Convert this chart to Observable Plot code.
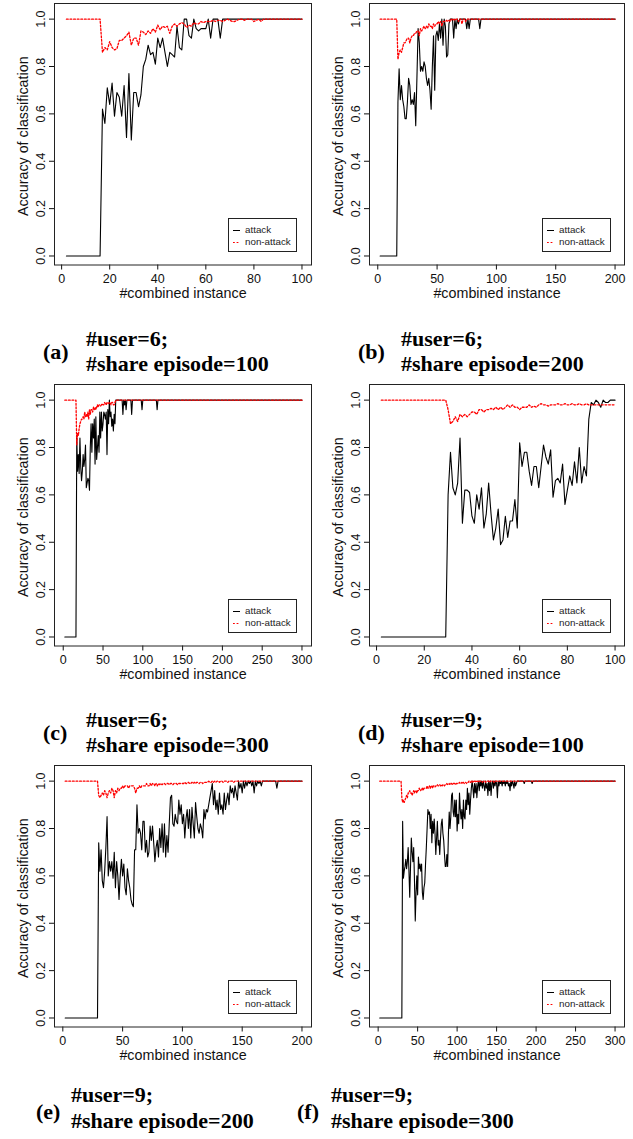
<!DOCTYPE html>
<html>
<head>
<meta charset="utf-8">
<script src="https://cdn.jsdelivr.net/npm/d3@7"></script>
<script src="https://cdn.jsdelivr.net/npm/@observablehq/plot@0.6"></script>
<style>
  html, body { margin: 0; padding: 0; background: #fff; }
  body { width: 633px; height: 1139px; position: relative; overflow: hidden; }
  .panel { position: absolute; width: 316px; height: 300px; }
  .panel > svg { position: absolute; left: 0; top: 0; }
  .legend { position: absolute; left: 228px; top: 218px; width: 69px; height: 34px; box-sizing: border-box;
            border: 1px solid #222; background: #fff; font-family: "Liberation Sans", Arial, sans-serif;
            font-size: 9.8px; color: #222; }
  .legend .row { position: absolute; left: 0; width: 67px; height: 12px; line-height: 12px; }
  .legend .sw { position: absolute; left: 4px; top: 5px; width: 7px; height: 3px; overflow: visible; }
  .legend .lb { position: absolute; left: 16px; top: 0; white-space: nowrap; }
  #captions { position: absolute; left: 0; top: 0; }
</style>
</head>
<body>
<script>
// ---------------- labels & ticks ----------------
const xTicks100 = [0, 20, 40, 60, 80, 100];
const xTicks200 = [0, 50, 100, 150, 200];
const xTicks300 = [0, 50, 100, 150, 200, 250, 300];
const yTicks = [0, 0.2, 0.4, 0.6, 0.8, 1.0];
const seriesNames = ["attack", "non-attack"];
const xTitle = "#combined instance";
const yTitle = "Accuracy of classification";
const panelLetters = ["(a)", "(b)", "(c)", "(d)", "(e)", "(f)"];
const userLabels = ["#user=6;", "#user=6;", "#user=6;", "#user=9;", "#user=9;", "#user=9;"];
const episodeLabels = ["#share episode=100", "#share episode=200", "#share episode=300",
                       "#share episode=100", "#share episode=200", "#share episode=300"];
const lastInstance = [100, 200, 300, 100, 200, 300];
const firstInstance = 2;
const attackBefore = 0;      // attack accuracy before the first changing instance
const nonAttackBefore = 1;   // non-attack accuracy before the first changing instance
const settledValue = 1;      // value after the last listed instance

// ---------------- (a) #user=6; #share episode=100 ----------------
const aAttackStart = 17;
const aAttack = [0.62,0.56,0.71,0.64,0.73,0.59,0.69,0.67,0.59,0.72,
                 0.50,0.77,0.49,0.69,0.69,0.63,0.68,0.80,0.83,0.89,
                 0.85,0.86,0.81,0.92,0.88,0.92,0.86,0.80,0.86,0.85,
                 0.84,0.97,0.88,0.87,1,1,0.93,0.92,1,0.96,
                 0.95,0.96,0.96,0.96,1,0.92,1,1,1,0.92];
const aNonStart = 17;
const aNon = [0.86,0.88,0.87,0.905,0.88,0.87,0.875,0.91,0.91,0.92,
              0.93,0.945,0.89,0.92,0.92,0.89,0.95,0.945,0.935,0.95,
              0.94,0.96,0.945,0.975,0.955,0.97,0.965,0.97,0.94,0.97,
              0.98,0.97,0.98,0.985,0.98,0.965,0.975,0.97,0.985,0.98,
              0.98,0.99,0.985,0.99,0.99,0.99,0.995,0.99,0.995,0.995,
              0.99,0.995,1,0.995,0.99,0.99,0.995,1,1,0.995,
              1,1,1,0.99,0.995,1,0.99];

// ---------------- (b) #user=6; #share episode=200 ----------------
const bAttackStart = 17;
const bAttack = [0.65,0.79,0.66,0.72,0.66,0.63,0.58,0.58,0.65,0.75,
                 0.72,0.64,0.66,0.64,0.69,0.55,0.75,0.96,0.90,0.78,
                 0.80,0.78,0.82,0.80,0.75,0.72,0.75,0.70,0.62,0.80,
                 0.93,0.70,0.93,0.95,0.91,0.98,0.92,1,0.89,1,
                 0.97,0.84,0.85,0.98,1,1,1,0.92,1,0.96,
                 1,0.98,1,1,1,1,1,1,0.96,1,
                 0.96,1,1,1,1,1,1,1,1,0.96,1];
const bNonStart = 17;
const bNon = [0.83,0.86,0.87,0.86,0.88,0.90,0.90,0.91,0.92,0.92,
              0.90,0.92,0.93,0.93,0.94,0.94,0.95,0.95,0.93,0.96,
              0.95,0.96,0.97,0.96,0.97,0.96,0.98,0.97,0.97,0.96,
              0.98,0.97,0.98,0.98,0.99,0.98,0.99,0.97,0.99,0.99,
              0.99,0.995,0.99,0.995,0.99,1,0.995,1,0.995,1,
              1,0.99,1,1,0.98,1,1,0.99,1];

// ---------------- (c) #user=6; #share episode=300 ----------------
const cAttackStart = 17;
const cAttack = [0.85,0.70,0.77,0.69,0.84,0.72,0.66,0.70,0.77,0.72,
                 0.75,0.81,0.63,0.65,0.67,0.66,0.62,0.80,0.90,0.78,
                 0.90,0.84,0.92,0.73,0.93,0.75,0.80,0.85,0.78,0.95,
                 0.84,0.95,0.87,0.90,0.95,0.94,0.92,0.95,0.77,0.96,
                 0.90,1,0.93,0.95,0.89,0.92,0.87,0.94,0.90,1,
                 1,1,1,1,1,1,1,1,0.94,1,
                 0.98,1,0.96,1,1,1,1,1,1,0.94,
                 1,1,1,1,1,1,1,1,1,1,
                 1,1,0.96,1,1,1,1,1,1,1,
                 1,1,1,1,1,1,1,1,1,1,
                 1,0.96];
const cNonStart = 17;
const cNon = [0.81,0.86,0.85,0.88,0.90,0.91,0.92,0.92,0.93,0.92,
              0.95,0.93,0.94,0.93,0.95,0.92,0.96,0.94,0.96,0.96,
              0.95,0.97,0.96,0.97,0.96,0.97,0.98,0.97,0.98,0.98,
              0.975,0.98,0.985,0.98,0.98,0.99,0.985,0.98,0.99,0.99,
              0.985,0.99,0.99,0.98,0.99,0.99,0.98,0.98,0.99,1];

// ---------------- (d) #user=9; #share episode=100 ----------------
const dAttackStart = 30;
const dAttack = [0.60,0.78,0.63,0.60,0.65,0.84,0.48,0.62,0.62,0.61,
                 0.51,0.48,0.60,0.54,0.63,0.46,0.52,0.65,0.52,0.41,
                 0.46,0.54,0.39,0.41,0.51,0.42,0.49,0.49,0.58,0.46,
                 0.82,0.72,0.78,0.78,0.70,0.64,0.72,0.72,0.63,0.72,
                 0.81,0.76,0.73,0.79,0.59,0.66,0.67,0.65,0.73,0.56,
                 0.62,0.68,0.64,0.74,0.65,0.80,0.65,0.72,0.68,0.92,
                 0.99,0.98,1,0.99,0.97,1,0.99,0.99,1,1,1];
const dNonStart = 30;
const dNon = [0.96,0.90,0.91,0.93,0.91,0.94,0.93,0.94,0.93,0.94,
              0.95,0.95,0.94,0.96,0.96,0.95,0.96,0.96,0.965,0.96,
              0.97,0.96,0.97,0.96,0.97,0.98,0.97,0.98,0.97,0.97,
              0.96,0.97,0.97,0.97,0.98,0.97,0.975,0.97,0.98,0.985,
              0.98,0.98,0.975,0.98,0.98,0.98,0.985,0.98,0.98,0.985,
              0.98,0.98,0.985,0.98,0.98,0.985,0.98,0.98,0.985,0.98,
              0.98,0.98,0.98,0.98,0.98,0.98,0.98,0.98,0.98,0.98,0.98];

// ---------------- (e) #user=9; #share episode=200 ----------------
const eAttackStart = 30;
const eAttack = [0.74,0.62,0.71,0.58,0.55,0.62,0.72,0.85,0.60,0.66,
                 0.62,0.66,0.59,0.70,0.55,0.66,0.60,0.50,0.60,0.67,
                 0.60,0.65,0.55,0.52,0.63,0.58,0.55,0.50,0.48,0.47,
                 0.71,0.71,0.90,0.78,0.80,0.78,0.71,0.83,0.83,0.70,
                 0.75,0.68,0.70,0.81,0.75,0.81,0.74,0.66,0.72,0.75,
                 0.68,0.80,0.72,0.82,0.70,0.82,0.68,0.77,0.70,0.82,
                 0.93,0.94,0.82,0.81,0.86,0.83,0.82,0.92,0.86,0.90,
                 0.82,0.86,0.76,0.84,0.88,0.80,0.88,0.76,0.89,0.82,
                 0.76,0.91,0.85,0.80,0.78,0.82,0.80,0.76,0.88,0.84,
                 0.88,0.87,0.90,0.93,0.96,0.99,0.90,0.96,0.88,0.92,
                 0.86,0.95,0.88,0.90,0.86,0.95,0.88,0.92,0.95,0.90,
                 0.98,0.95,0.97,0.93,0.98,0.95,0.92,1,0.97,0.99,
                 0.95,1,0.97,1,0.98,1,0.99,1,0.98,1,
                 0.95,1,0.98,1,0.99,1,0.98,1,1,1,
                 1,1,1,1,1,1,1,1,1,0.97];
const eNonStart = 30;
const eNon = [0.94,0.93,0.94,0.95,0.94,0.96,0.95,0.93,0.95,0.96,
              0.95,0.97,0.96,0.93,0.96,0.95,0.97,0.96,0.97,0.97,
              0.98,0.97,0.98,0.98,0.98,0.97,0.98,0.98,0.98,0.98,
              0.97,0.95,0.97,0.97,0.98,0.97,0.98,0.98,0.98,0.98,
              0.99,0.98,0.98,0.99,0.98,0.99,0.99,0.98,0.99,0.98,
              0.99,0.985,0.99,0.985,0.99,0.99,0.985,0.99,0.99,0.985,
              0.99,0.99,0.985,0.99,0.99,0.99,0.985,0.99,0.99,0.99,
              0.99,0.99,0.995,0.99,0.99,0.995,0.99,0.99,0.995,0.99,
              0.995,0.99,0.995,0.995,0.99,0.995,0.995,0.99,0.995,0.995,
              0.995,0.995,1,0.995,0.995,1,0.995,1,0.995,1,
              1,0.995,1,1,0.995,1,1,1,0.995,1,
              1,1,1,0.995,1,1,1];

// ---------------- (f) #user=9; #share episode=300 ----------------
const fAttackStart = 31;
const fAttack = [0.83,0.59,0.62,0.64,0.67,0.63,0.66,0.72,0.62,0.51,
                 0.64,0.76,0.70,0.66,0.72,0.58,0.41,0.53,0.60,0.52,
                 0.68,0.63,0.65,0.62,0.65,0.53,0.50,0.55,0.57,0.65,
                 0.72,0.80,0.88,0.86,0.87,0.80,0.86,0.74,0.83,0.78,
                 0.84,0.78,0.69,0.76,0.83,0.73,0.75,0.69,0.76,0.82,
                 0.84,0.78,0.75,0.69,0.64,0.64,0.69,0.64,0.78,0.87,
                 0.80,0.85,0.94,0.95,0.87,0.85,0.92,0.85,0.92,0.79,
                 0.86,0.82,0.95,0.88,0.84,0.88,0.80,0.92,0.85,0.84,
                 0.92,0.88,0.97,0.90,0.95,0.86,0.92,0.97,1,0.97,
                 0.93,0.99,0.95,0.99,0.93,0.98,1,0.96,1,0.98,
                 1,0.97,1,0.98,0.96,1,0.97,0.99,0.94,1,
                 0.96,1,0.94,0.99,1,0.97,1,0.98,1,0.99,
                 0.93,1,0.98,1,0.99,1,0.98,1,0.99,1,
                 0.98,1,0.99,1,0.98,0.99,0.96,1,0.98,1,
                 0.99,0.97,1,0.98,0.99,1,1,1,1,1,
                 1,1,1,1,0.99,1,1,1,1,1,
                 1,1,1,1,0.99,1];
const fNonStart = 30;
const fNon = [0.93,0.91,0.92,0.91,0.92,0.93,0.94,0.93,0.95,0.95,
              0.96,0.95,0.95,0.94,0.95,0.96,0.95,0.96,0.96,0.95,
              0.96,0.96,0.97,0.96,0.96,0.97,0.97,0.96,0.97,0.97,
              0.97,0.97,0.98,0.97,0.97,0.98,0.97,0.98,0.98,0.97,
              0.98,0.98,0.975,0.98,0.98,0.985,0.98,0.98,0.985,0.98,
              0.985,0.98,0.985,0.985,0.98,0.985,0.985,0.99,0.985,0.985,
              0.99,0.985,0.99,0.99,0.985,0.99,0.99,0.99,0.985,0.99,
              0.99,0.99,0.99,0.995,0.99,0.99,0.995,0.99,0.995,0.99,
              0.995,0.995,0.99,0.995,0.995,1,0.995,0.995,1,0.995,
              1,0.995,1,1,0.995,1,1,0.995,1,1,
              1,1,0.995,1,1,1,0.995,1,1,1,
              1,0.995,1,1,1,1,1,0.995,1,1];

// ---------------- build ----------------
function buildSeries(start, values, last, before, name) {
  const pts = [{x: firstInstance, y: before, s: name}, {x: start - 1, y: before, s: name}];
  values.forEach((v, i) => pts.push({x: start + i, y: v, s: name}));
  const end = start + values.length - 1;
  if (end < last) pts.push({x: end + 1, y: settledValue, s: name}, {x: last, y: settledValue, s: name});
  return pts;
}

const specs = [
  {ticks: xTicks100, atk: [aAttackStart, aAttack], non: [aNonStart, aNon]},
  {ticks: xTicks200, atk: [bAttackStart, bAttack], non: [bNonStart, bNon]},
  {ticks: xTicks300, atk: [cAttackStart, cAttack], non: [cNonStart, cNon]},
  {ticks: xTicks100, atk: [dAttackStart, dAttack], non: [dNonStart, dNon]},
  {ticks: xTicks200, atk: [eAttackStart, eAttack], non: [eNonStart, eNon]},
  {ticks: xTicks300, atk: [fAttackStart, fAttack], non: [fNonStart, fNon]}
];

const colLeft = [0, 315];
const rowTop = [0, 381, 762];
const axisFont = '"Liberation Sans", Arial, Helvetica, sans-serif';
const RED = "#ff0000";
const DOT = "1.8,1.8";

specs.forEach((s, i) => {
  const col = i % 2, row = Math.floor(i / 2);
  const last = lastInstance[i];
  const ext = 0.04 * (last - 1);
  const attack = buildSeries(s.atk[0], s.atk[1], last, attackBefore, seriesNames[0]);
  const nonAttack = buildSeries(s.non[0], s.non[1], last, nonAttackBefore, seriesNames[1]);

  const svg = Plot.plot({
    width: 316,
    height: 300,
    marginLeft: 54,
    marginRight: col === 0 ? 5 : 7,
    marginTop: 3,
    marginBottom: 35.5,
    style: {fontFamily: axisFont, fontSize: "12.5px", color: "#111", background: "none", overflow: "visible"},
    x: {domain: [1 - ext, last + ext]},
    y: {domain: [-0.038, 1.066]},
    marks: [
      Plot.axisX({ticks: s.ticks, tickSize: 5, tickPadding: 4, tickFormat: d => String(d), label: null}),
      Plot.axisY({ticks: yTicks, tickSize: 5, tickPadding: 5, tickRotate: -90, tickFormat: d => d.toFixed(1), label: null}),
      Plot.text([xTitle], {frameAnchor: "bottom", textAnchor: "middle", lineAnchor: "middle", dy: 28.8, fontSize: 14.3, fill: "#111"}),
      Plot.text([yTitle], {frameAnchor: "left", textAnchor: "middle", lineAnchor: "middle", dx: -31.5, dy: 2, rotate: -90, fontSize: 14.3, fill: "#111"}),
      Plot.line(attack, {x: "x", y: "y", stroke: "#000", strokeWidth: 1.1}),
      Plot.line(nonAttack, {x: "x", y: "y", stroke: RED, strokeWidth: 1.3, strokeDasharray: DOT}),
      Plot.frame({stroke: "#222", strokeWidth: 1})
    ]
  });

  const wrap = document.createElement("div");
  wrap.className = "panel";
  wrap.style.left = colLeft[col] + "px";
  wrap.style.top = rowTop[row] + "px";
  wrap.appendChild(svg);

  const lg = document.createElement("div");
  lg.className = "legend";
  lg.style.left = (col === 0 ? 228 : 227) + "px";
  lg.innerHTML =
    `<div class="row" style="top:5px"><svg class="sw" width="7" height="3"><line x1="0" x2="7" y1="1.5" y2="1.5" stroke="#000" stroke-width="1"/></svg><div class="lb">${seriesNames[0]}</div></div>` +
    `<div class="row" style="top:17px"><svg class="sw" width="7" height="3"><line x1="0" x2="7" y1="1.5" y2="1.5" stroke="${RED}" stroke-width="1.2" stroke-dasharray="${DOT}"/></svg><div class="lb">${seriesNames[1]}</div></div>`;
  wrap.appendChild(lg);
  document.body.appendChild(wrap);
});

// ---------------- captions ----------------
const capLayout = [
  {lx: 43, tx: 86, b1: 345.5, b2: 370.5, bl: 359},
  {lx: 358, tx: 401, b1: 345.5, b2: 370.5, bl: 359},
  {lx: 43, tx: 86, b1: 726.5, b2: 751.5, bl: 740},
  {lx: 358, tx: 401, b1: 726.5, b2: 751.5, bl: 740},
  {lx: 36, tx: 71, b1: 1101.5, b2: 1128, bl: 1118.5},
  {lx: 297, tx: 331, b1: 1101.5, b2: 1128, bl: 1118.5}
];
const NS = "http://www.w3.org/2000/svg";
const cap = document.createElementNS(NS, "svg");
cap.setAttribute("id", "captions");
cap.setAttribute("width", 633);
cap.setAttribute("height", 1139);
cap.setAttribute("font-family", '"Liberation Serif", "Times New Roman", serif');
cap.setAttribute("font-weight", "bold");
cap.setAttribute("font-size", "22");
function addText(x, y, t) {
  const el = document.createElementNS(NS, "text");
  el.setAttribute("x", x); el.setAttribute("y", y); el.textContent = t;
  cap.appendChild(el);
}
capLayout.forEach((c, i) => {
  addText(c.lx, c.bl, panelLetters[i]);
  addText(c.tx, c.b1, userLabels[i]);
  addText(c.tx, c.b2, episodeLabels[i]);
});
document.body.appendChild(cap);
</script>
</body>
</html>
